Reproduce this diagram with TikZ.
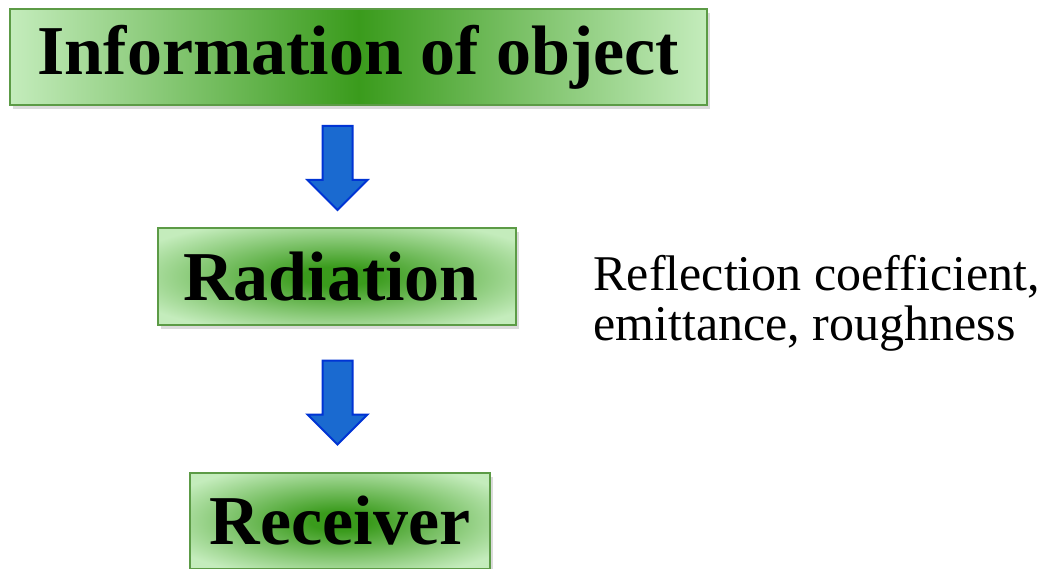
\documentclass[tikz,border=0pt]{standalone}
\usepackage{fontspec}
\setmainfont{Liberation Serif}
\usepackage{tikz}
\usetikzlibrary{shapes.arrows}
\usetikzlibrary{shadows}
\definecolor{boxdark}{RGB}{58,155,28}
\definecolor{boxlight}{RGB}{196,236,188}
\definecolor{boxedge}{RGB}{92,155,70}
\definecolor{arrowfill}{RGB}{26,106,208}
\definecolor{arrowedge}{RGB}{0,52,212}
\pgfdeclarehorizontalshading{bandshade}{100bp}{color(0bp)=(boxlight); color(25bp)=(boxlight); color(50bp)=(boxdark); color(75bp)=(boxlight); color(100bp)=(boxlight)}
\pgfdeclareradialshading{glowshade}{\pgfpoint{0bp}{0bp}}{color(0bp)=(boxdark); color(5bp)=(boxdark); color(31bp)=(boxlight); color(50bp)=(boxlight)}
\tikzset{
	boxstyle/.style={rectangle,draw=boxedge,line width=1.5pt,inner sep=0pt,
		font=\fontsize{70}{80}\selectfont\bfseries,
		drop shadow={shadow xshift=3pt,shadow yshift=-4pt,opacity=0.2,fill=black!70}},
	linestyle/.style={boxstyle,shading=bandshade},
	glowstyle/.style={boxstyle,shading=glowshade},
	downarrow/.style={single arrow,draw=arrowedge,fill=arrowfill,line width=2pt,
		minimum height=84pt,inner xsep=0pt,inner ysep=14pt,single arrow head extend=15pt,
		single arrow tip angle=90,rotate=-90},
	notestyle/.style={align=left,anchor=base west,font=\fontsize{50}{50}\selectfont}
}
\begin{document}
\begin{tikzpicture}[x=1pt,y=-1pt]
	\useasboundingbox[fill=white] (0,0) rectangle (1046,569);
	\node[linestyle,minimum width=697pt,minimum height=96pt] (info) at (358.5,57) {Information of object};
	\node[glowstyle,minimum width=358pt,minimum height=97pt] (rad) at (337,276.5) {\hspace*{-12pt}Radiation};
	\node[glowstyle,minimum width=300pt,minimum height=96pt] (rec) at (340,521) {Receiver};
	\node[downarrow] (a1) at (337.5,160.5) {};
	\node[downarrow] (a2) at (337.5,395) {};
	\node[notestyle] (note) at (590,340) {Reflection coefficient,\\emittance, roughness};
\end{tikzpicture}
\end{document}
